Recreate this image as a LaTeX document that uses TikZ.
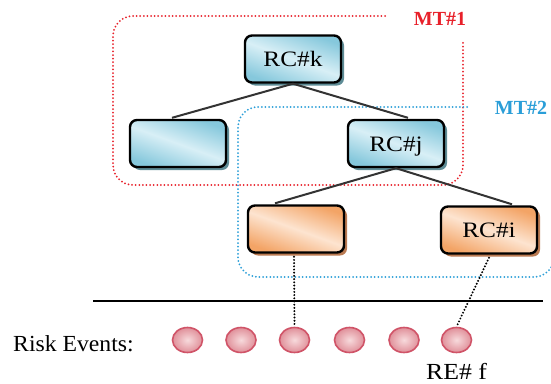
\documentclass[tikz,border=0pt]{standalone}
\usepackage{fontspec}
\setmainfont{Liberation Serif}
\newfontfamily\tnr{Liberation Serif}
\usetikzlibrary{shadows,shapes.geometric}
\definecolor{mtred}{HTML}{E8202A}
\definecolor{mtblue}{HTML}{2A9ED8}
\definecolor{bluelight}{HTML}{D8EFF6}
\definecolor{bluemid}{HTML}{86C8DC}
\definecolor{blueshadow}{HTML}{5E8C96}
\definecolor{orlight}{HTML}{FDE4D0}
\definecolor{ormid}{HTML}{F3A466}
\definecolor{orshadow}{HTML}{BA7A52}
\definecolor{relight}{HTML}{F7DADC}
\definecolor{redark}{HTML}{E0909A}
\definecolor{reborder}{HTML}{D05468}
\definecolor{treeline}{HTML}{333333}
\begin{document}
\begin{tikzpicture}[x=1pt,y=-1pt,
  rcbox/.style={rectangle, rounded corners=7pt, draw=black, line width=2.4pt,
    minimum width=96pt, minimum height=47pt, inner sep=0pt,
    text height=15pt, text depth=0pt, font=\tnr\fontsize{22}{26}\selectfont},
  bluebox/.style={rcbox, top color=bluemid, bottom color=bluemid, middle color=bluelight,
    shading angle=-20,
    drop shadow={shadow xshift=3pt, shadow yshift=-3pt, fill=blueshadow, opacity=1}},
  orbox/.style={rcbox, top color=ormid, bottom color=ormid, middle color=orlight,
    shading angle=-20,
    drop shadow={shadow xshift=3pt, shadow yshift=-3pt, fill=orshadow, opacity=1}},
  event/.style={ellipse, minimum width=30pt, minimum height=25pt, inner sep=0pt,
    draw=reborder, line width=1.6pt, inner color=relight, outer color=redark},
  treeedge/.style={draw=treeline, line width=2pt},
  linkedge/.style={draw=black, line width=2.2pt, line cap=round, dash pattern=on 0pt off 3.2pt},
  groupbox/.style={line width=2pt, line cap=round, dash pattern=on 0pt off 3.6pt, rounded corners=20pt},
  lbl/.style={font=\tnr\fontsize{23}{27}\selectfont, inner sep=0pt},
  mtlbl/.style={font=\tnr\fontsize{20}{24}\selectfont\bfseries, inner sep=0pt}
]
\useasboundingbox (0,0) rectangle (551,383);
\fill[white] (0,0) rectangle (551,383);

% group outlines
\coordinate (r0) at (385,16);
\coordinate (r1) at (463,40);
\draw[groupbox, mtred] (r0) -- (113,16) -- (113,185) -- (463,185) -- (r1);
\coordinate (b0) at (467,107);
\coordinate (b1) at (554,115);
\draw[groupbox, mtblue] (b0) -- (238,107) -- (238,277) -- (554,277) -- (b1);
\node[mtlbl, text=mtred] (mt1) at (440,19) {MT\#1};
\node[mtlbl, text=mtblue] (mt2) at (521,108) {MT\#2};

% nodes
\node[bluebox] (k) at (293,59) {\scalebox{1.15}[1]{RC\#k}};
\node[bluebox] (l) at (178,143.5) {};
\node[bluebox] (j) at (396,143.5) {\scalebox{1.15}[1]{RC\#j}};
\node[orbox] (o) at (296,229) {};
\node[orbox] (i) at (489,230) {\scalebox{1.15}[1]{RC\#i}};

% baseline
\coordinate (h0) at (93,301);
\coordinate (h1) at (543,301);
\draw[line width=2.4pt] (h0) -- (h1);

% risk events
\node[lbl, anchor=base west] (re) at (13,351) {\scalebox{1.03}[1]{Risk Events:}};
\node[event] (e1) at (187.5,340) {};
\node[event] (e2) at (241,340) {};
\node[event] (e3) at (294.5,340) {};
\node[event] (e4) at (349.5,340) {};
\node[event] (e5) at (404,340) {};
\node[event] (e6) at (456.5,340) {};
\node[lbl, anchor=base] (ref) at (456.5,379) {\scalebox{1.12}[1]{RE\# f}};

% connectors
\draw[treeedge] (k.south) -- ([xshift=-6pt,yshift=1pt]l.north);
\draw[treeedge] (k.south) -- ([xshift=12pt,yshift=1pt]j.north);
\draw[treeedge] (j.south) -- ([xshift=-21pt,yshift=1pt]o.north);
\draw[treeedge] (j.south) -- ([xshift=23pt,yshift=1pt]i.north);
\draw[linkedge] ([xshift=-2pt,yshift=-3pt]o.south) -- (e3.north);
\draw[linkedge] ([yshift=-3pt]i.south) -- (e6.north);
\end{tikzpicture}
\end{document}
